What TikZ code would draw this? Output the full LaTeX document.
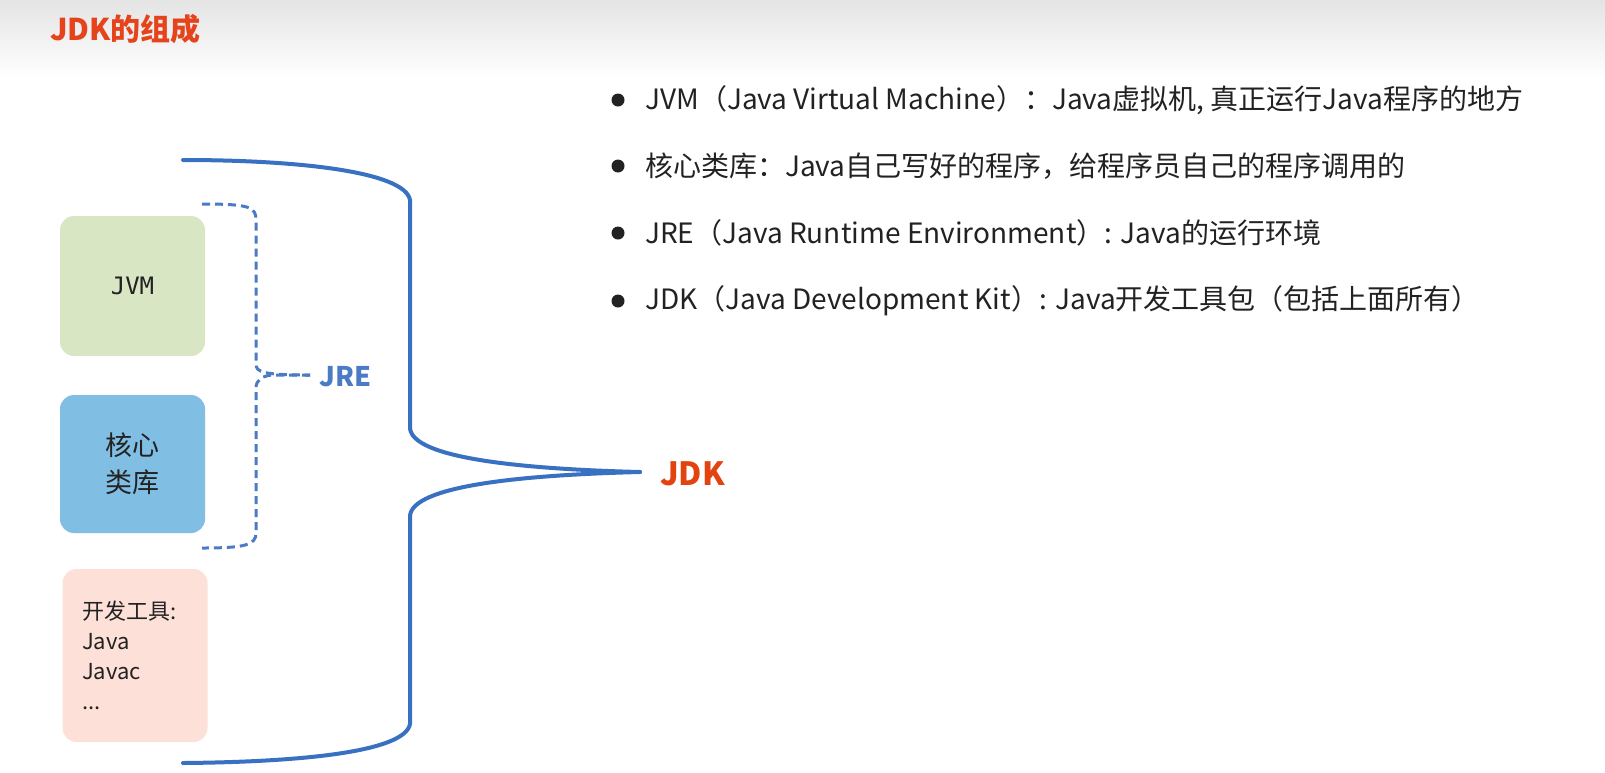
\documentclass[tikz,border=0pt]{standalone}
\usepackage{fontspec}
\setmainfont{Noto Sans CJK SC}
\newfontfamily\monofont{DejaVu Sans Mono}
\definecolor{titlered}{HTML}{E5431B}
\definecolor{jdkred}{HTML}{E2430F}
\definecolor{braceblue}{HTML}{3870C2}
\definecolor{jreblue}{HTML}{4A7BC4}
\definecolor{jvmgreen}{HTML}{D9E6C4}
\definecolor{libblue}{HTML}{80BEE3}
\definecolor{toolpink}{HTML}{FDE1D8}
\definecolor{textgray}{HTML}{222222}
\definecolor{headgray}{HTML}{E4E4E4}
\tikzset{
  box/.style={rounded corners=14pt, minimum width=145pt, inner sep=0pt, text=textgray},
  bullettext/.style={anchor=west, inner sep=0pt, font=\fontsize{28}{32}\selectfont, text=textgray},
  bulletdot/.style={circle, fill=textgray, minimum size=13pt, inner sep=0pt},
  bigbrace/.style={draw=braceblue, line width=4pt, line cap=round},
  dashbrace/.style={draw=jreblue, line width=3pt, dash pattern=on 8pt off 5pt},
}
\begin{document}
\begin{tikzpicture}[x=1pt,y=-1pt]
\useasboundingbox (0,0) rectangle (1605,772);
\fill[white] (0,0) rectangle (1605,772);
\shade[top color=headgray, bottom color=white] (0,0) rectangle (1605,78);
% title
\node[anchor=west, inner sep=0pt, text=titlered, font=\fontsize{30}{34}\selectfont\bfseries] (title) at (50,29) {JDK的组成};
% boxes
\node[box, fill=jvmgreen, minimum height=140pt, font=\monofont\fontsize{24}{28}\selectfont] (jvm) at (132.5,286) {JVM};
\node[box, fill=libblue, minimum height=138pt, align=center, font=\fontsize{27}{37}\selectfont] (lib) at (132.5,464) {核心\\类库};
\node[box, fill=toolpink, minimum height=173pt, inner xsep=19pt, text width=106pt, align=left, font=\fontsize{22}{30}\selectfont] (tools) at (135,655.5) {开发工具:\\Java\\Javac\\...};
% JRE dashed brace
\coordinate (jreTop) at (202,204);
\coordinate (jreBot) at (202,548);
\coordinate (jreTip) at (310,375);
\draw[dashbrace] (jreTop) .. controls (250,204) and (256,207) .. (256,220) -- (256,364) .. controls (256,372) and (262,375) .. (jreTip);
\draw[dashbrace] (jreTip) -- (272,375) .. controls (262,376) and (256,380) .. (256,388) -- (256,533) .. controls (256,545) and (245,548) .. (jreBot);
\node[anchor=west, inner sep=0pt, text=jreblue, font=\fontsize{27}{32}\selectfont\bfseries] (jre) at (319,377) {JRE};
% JDK big brace
\coordinate (jdkTop) at (183,160);
\coordinate (jdkBot) at (183,763);
\coordinate (jdkTip) at (640,472);
\draw[bigbrace] (jdkTop) .. controls (300,160) and (405,172) .. (410,200) -- (410,428) .. controls (412,458) and (520,469) .. (jdkTip);
\draw[bigbrace] (jdkTip) .. controls (520,475) and (412,486) .. (410,516) -- (410,724) .. controls (405,752) and (300,762) .. (jdkBot);
\node[anchor=west, inner sep=0pt, text=jdkred, font=\fontsize{32}{38}\selectfont\bfseries] (jdk) at (660,474) {JDK};
% bullets
\node[bulletdot] (b1) at (618,100) {};
\node[bulletdot] (b2) at (618,166) {};
\node[bulletdot] (b3) at (618,233) {};
\node[bulletdot] (b4) at (618,301) {};
\node[bullettext] (t1) at (645,100) {JVM（Java Virtual Machine）：Java虚拟机, 真正运行Java程序的地方};
\node[bullettext] (t2) at (645,166) {核心类库：Java自己写好的程序，给程序员自己的程序调用的};
\node[bullettext] (t3) at (645,233) {JRE（Java Runtime Environment）: Java的运行环境};
\node[bullettext] (t4) at (645,301) {JDK（Java Development Kit）: Java开发工具包（包括上面所有）};
\end{tikzpicture}
\end{document}
